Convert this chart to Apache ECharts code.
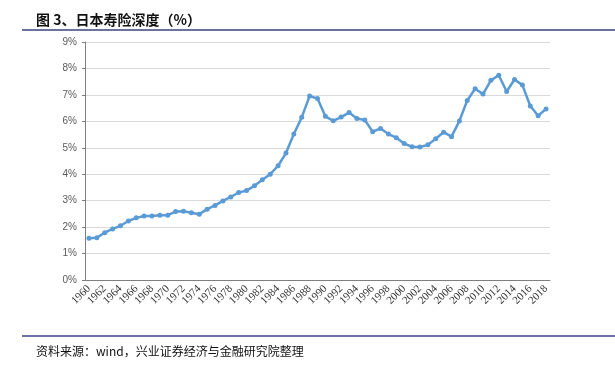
<!DOCTYPE html>
<html>
<head>
<meta charset="utf-8">
<script src="https://cdn.jsdelivr.net/npm/echarts@6/dist/echarts.min.js"></script>
<style>
    html,body{margin:0;padding:0;background:#fff;}
    #main{width:615px;height:369px;}
</style>
</head>
<body>
<div id="main"></div>
<script>
//年份
var years = [];
for (var y = 1960; y <= 2018; y++) { years.push(String(y)); }
//寿险深度（%）
var depth = [
    1.58, 1.60, 1.79, 1.93, 2.05, 2.23, 2.35, 2.42, 2.42, 2.45,
    2.45, 2.59, 2.60, 2.54, 2.49, 2.68, 2.82, 2.99, 3.14, 3.31,
    3.38, 3.56, 3.79, 4.00, 4.32, 4.80, 5.52, 6.15, 6.96, 6.86,
    6.19, 6.02, 6.16, 6.33, 6.11, 6.05, 5.61, 5.73, 5.52, 5.38,
    5.16, 5.04, 5.03, 5.11, 5.34, 5.59, 5.42, 6.01, 6.79, 7.23,
    7.03, 7.55, 7.74, 7.13, 7.58, 7.37, 6.58, 6.21, 6.47
];
var yTicks = [0, 1, 2, 3, 4, 5, 6, 7, 8, 9];

var myChart = echarts.init(document.getElementById('main'));
myChart.setOption({
    backgroundColor: '#fff',
    animation: false,
    title: [{
        text: '图 3、日本寿险深度（%）',
        left: 31, top: 8,
        textStyle: {fontSize: 14, fontWeight: 'bold', color: '#111', fontFamily: 'Noto Sans CJK SC'}
    }, {
        text: '资料来源：wind，兴业证券经济与金融研究院整理',
        left: 31, top: 340,
        textStyle: {fontSize: 12, fontWeight: 'normal', color: '#111', fontFamily: 'Noto Sans CJK SC'}
    }],
    graphic: [
        {type: 'line', shape: {x1: 22, y1: 30, x2: 615, y2: 30}, style: {stroke: '#3a4280', lineWidth: 1.5}},
        {type: 'line', shape: {x1: 22, y1: 336, x2: 615, y2: 336}, style: {stroke: '#3a4280', lineWidth: 1.5}}
    ],
    grid: {left: 85, right: 65, top: 42, bottom: 89},
    xAxis: {
        type: 'category',
        data: years,
        boundaryGap: true,
        axisLine: {lineStyle: {color: '#7f7f7f', width: 1}},
        axisTick: {inside: true, length: 4, interval: 1, lineStyle: {color: '#7f7f7f'}},
        axisLabel: {
            interval: 1, rotate: 45, margin: 7,
            fontSize: 11, color: '#333', fontFamily: 'Liberation Serif'
        }
    },
    yAxis: {
        type: 'value',
        min: 0, max: 9, interval: 1,
        axisLine: {show: true, lineStyle: {color: '#7f7f7f', width: 1}},
        axisTick: {show: true, length: 3, lineStyle: {color: '#7f7f7f'}},
        splitLine: {lineStyle: {color: '#d9d9d9', width: 1}},
        axisLabel: {
            margin: 8, fontSize: 10, color: '#595959', fontFamily: 'Liberation Sans',
            formatter: function (v) { return yTicks.indexOf(v) >= 0 ? v + '%' : ''; }
        }
    },
    series: [{
        type: 'line',
        data: depth,
        symbol: 'circle',
        symbolSize: 5,
        lineStyle: {color: '#5b9bd5', width: 2.5},
        itemStyle: {color: '#5b9bd5'}
    }]
});
</script>
</body>
</html>
